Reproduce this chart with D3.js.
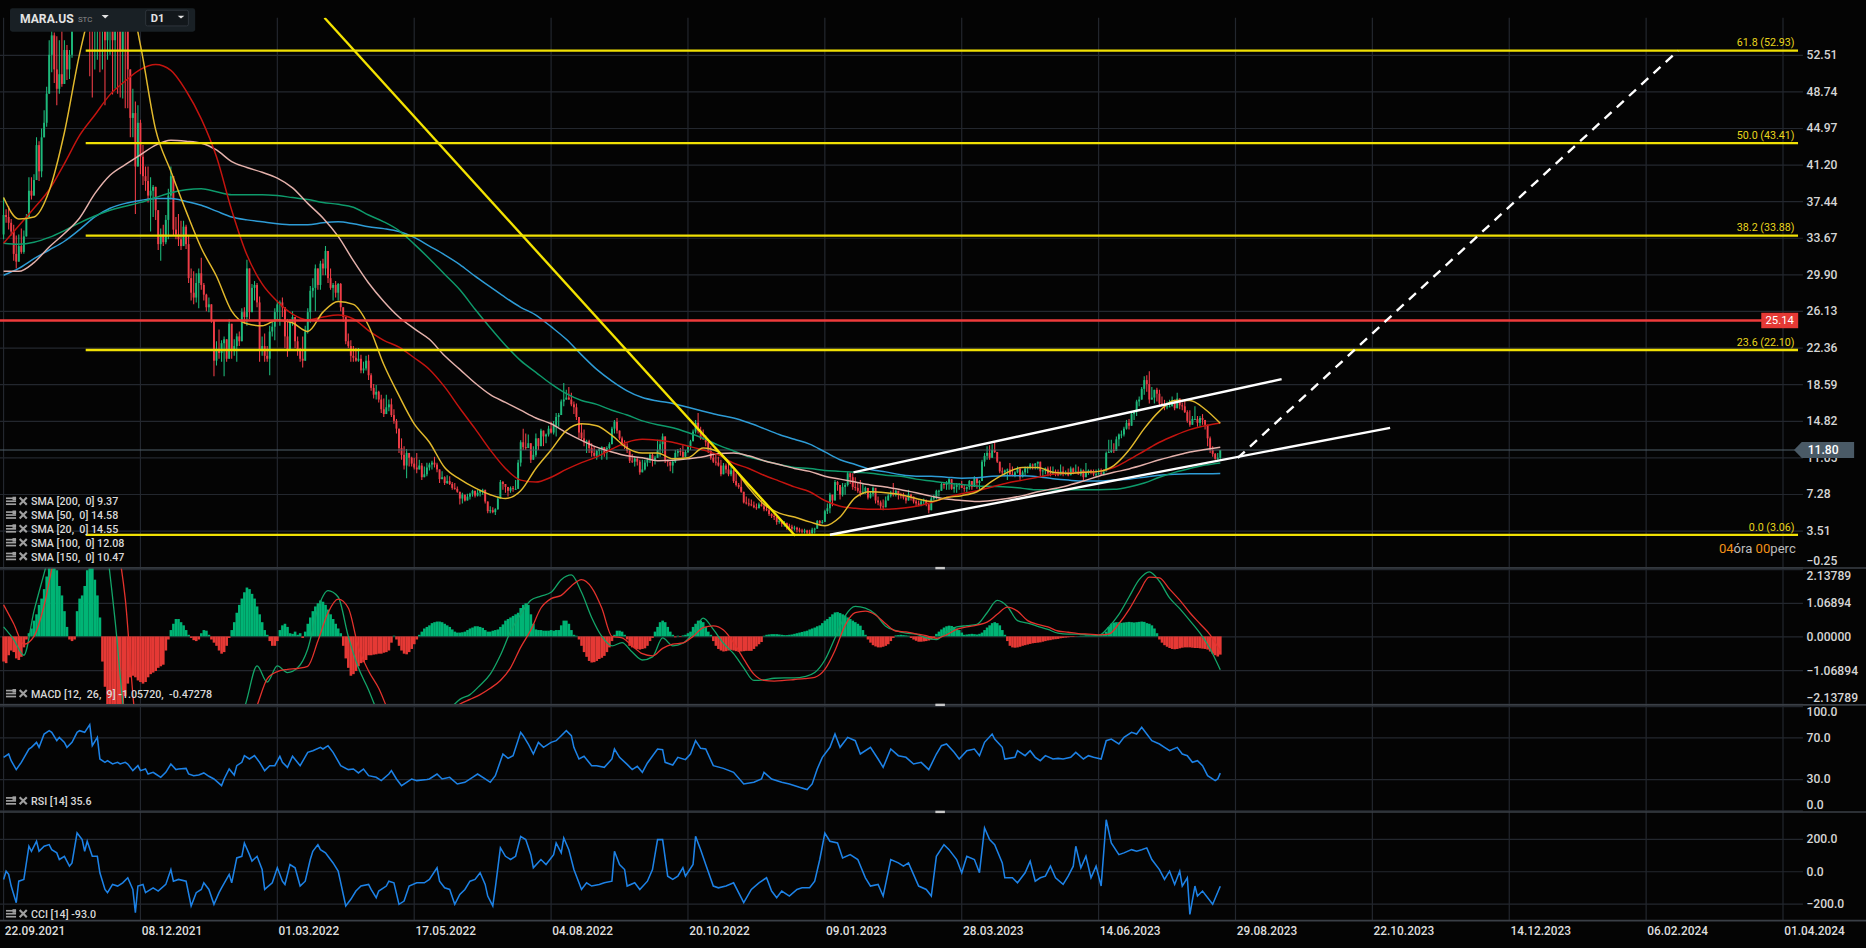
<!DOCTYPE html>
<html>
<head>
<meta charset="utf-8">
<script src="https://cdn.jsdelivr.net/npm/d3@7"></script>
<style>
  html, body { margin: 0; padding: 0; background: #040404; overflow: hidden; }
  svg { display: block; font-family: Roboto, 'Noto Sans', sans-serif; }
</style>
</head>
<body>
<div id="chart"></div>
<script>
// MARA.US daily chart: candles + 5 SMAs + fib levels, MACD / RSI / CCI panels
// all values (bar index 0 = 22.09.2021)

const ticker = 'MARA.US', exchange = 'STC', timeframe = 'D1';

const dateBars = [0, 54, 108, 162, 216, 270, 324, 378, 432, 486, 540, 594, 648, 702];
const dateLabels = ['22.09.2021', '08.12.2021', '01.03.2022', '17.05.2022', '04.08.2022', '20.10.2022',
  '09.01.2023', '28.03.2023', '14.06.2023', '29.08.2023', '22.10.2023', '14.12.2023', '06.02.2024', '01.04.2024'];

const priceTicks = [52.51, 48.74, 44.97, 41.20, 37.44, 33.67, 29.90, 26.13, 22.36, 18.59, 14.82, 11.05, 7.28, 3.51, -0.25];
const macdTicks = [2.13789, 1.06894, 0, -1.06894, -2.13789];
const rsiTicks = [100, 70, 30, 0];
const cciTicks = [200, 0, -200];

const firstOpen = 34.0;
const closes = [
  36.0, 35.8, 35.2, 34.3, 32.0, 31.2, 32.8, 32.2, 33.8, 35.8,
  38.5, 38.0, 39.6, 43.2, 40.5, 44.0, 45.5, 48.5, 52.5, 54.5,
  51.0, 49.0, 50.5, 49.5, 53.0, 51.0, 52.5, 55.0, 60.0, 63.0,
  68.0, 70.0, 66.0, 62.0, 58.0, 55.0, 57.0, 59.0, 56.0, 58.0,
  54.0, 56.0, 57.0, 54.0, 57.0, 55.0, 53.0, 56.0, 55.5, 51.0,
  46.0, 46.5, 41.0, 45.5, 42.0, 40.0, 39.5, 38.0, 38.5, 38.9,
  36.5, 33.0, 34.0, 33.2, 35.5, 38.0, 40.0, 34.5, 34.0, 33.5,
  32.8, 34.8, 33.0, 29.5, 28.0, 27.5, 29.0, 30.0, 28.8, 27.8,
  26.5, 26.8, 25.2, 21.0, 22.0, 21.8, 22.8, 23.2, 21.2, 24.8,
  22.0, 22.5, 23.5, 23.0, 26.0, 25.5, 30.5, 26.0, 28.5, 28.8,
  27.0, 22.0, 22.5, 21.5, 21.2, 24.0, 24.5, 26.0, 26.8, 27.0,
  26.5, 23.5, 22.0, 25.0, 25.5, 23.0, 22.0, 21.2, 21.0, 24.0,
  26.0, 28.2, 28.5, 30.5, 28.8, 31.0, 30.5, 32.3, 29.5, 28.5,
  28.8, 28.0, 28.9, 26.5, 25.5, 23.0, 22.5, 21.5, 21.3, 21.0,
  21.2, 20.0, 20.2, 21.0, 19.5, 18.2, 17.5, 17.8, 17.0, 16.0,
  15.5, 16.2, 16.5, 15.4, 14.8, 14.0, 12.0, 11.3, 10.2, 11.5,
  11.0, 10.4, 10.0, 9.8, 10.2, 9.0, 9.3, 10.0, 10.3, 10.5,
  10.3, 9.8, 8.8, 9.0, 8.4, 8.6, 8.3, 7.9, 7.8, 7.5,
  6.8, 7.2, 6.6, 7.0, 7.3, 7.6, 7.1, 7.4, 7.6, 7.7,
  6.5, 5.5, 5.6, 5.4, 5.7, 6.8, 8.5, 8.3, 8.0, 7.6,
  7.9, 7.8, 7.8, 10.5, 12.6, 12.1, 12.0, 12.5, 10.8, 11.3,
  13.0, 12.2, 13.8, 13.2, 13.4, 14.0, 13.6, 14.3, 15.2, 15.4,
  16.8, 17.0, 17.2, 17.0, 16.5, 16.2, 15.2, 13.6, 13.0, 12.6,
  12.7, 12.0, 11.5, 11.2, 11.7, 11.9, 12.1, 11.5, 12.0, 12.4,
  14.0, 14.7, 13.8, 13.0, 12.4, 12.2, 11.7, 10.7, 10.6, 10.9,
  10.6, 9.5, 9.8, 10.5, 10.8, 11.3, 10.8, 11.0, 11.8, 12.4,
  13.2, 10.8, 10.6, 10.2, 10.6, 11.5, 11.7, 11.6, 11.1, 11.6,
  12.2, 12.7, 13.7, 14.6, 13.8, 13.0, 12.9, 12.6, 11.7, 11.0,
  10.6, 10.5, 10.2, 9.3, 10.2, 9.8, 9.3, 9.7, 8.6, 8.2,
  8.0, 7.5, 6.4, 6.3, 6.2, 6.1, 5.9, 5.8, 6.2, 6.0,
  5.7, 5.6, 5.2, 5.0, 4.9, 4.4, 4.5, 4.2, 4.3, 4.0,
  3.9, 3.7, 3.8, 3.6, 3.5, 3.4, 3.5, 3.3, 3.2, 3.6,
  3.7, 4.5, 4.3, 4.4, 5.5, 5.8, 7.2, 6.6, 8.5, 8.2,
  7.2, 8.0, 8.2, 9.4, 9.0, 8.0, 7.9, 7.6, 7.3, 7.5,
  7.9, 6.9, 7.3, 7.9, 6.6, 6.4, 6.0, 5.9, 6.6, 7.1,
  7.4, 7.2, 7.6, 7.2, 7.1, 6.9, 6.6, 7.2, 7.0, 6.5,
  6.3, 6.1, 6.5, 6.6, 6.2, 5.6, 6.8, 7.0, 7.6, 7.6,
  8.3, 8.2, 8.4, 8.8, 7.8, 8.0, 8.2, 8.3, 7.9, 7.8,
  8.0, 8.6, 8.0, 8.9, 8.4, 8.6, 10.6, 11.2, 11.5, 11.0,
  11.8, 11.6, 10.6, 9.6, 9.5, 9.7, 9.8, 9.3, 9.2, 9.5,
  9.9, 9.0, 9.5, 9.9, 10.0, 10.3, 10.2, 10.4, 10.6, 9.6,
  9.7, 9.9, 9.4, 9.3, 9.5, 9.4, 9.2, 9.6, 9.3, 9.4,
  9.2, 9.9, 9.5, 9.6, 9.3, 9.7, 9.0, 9.5, 9.7, 9.5,
  9.3, 9.3, 9.4, 9.3, 9.6, 11.5, 11.6, 11.8, 11.7, 12.9,
  13.4, 13.4, 14.0, 14.6, 14.3, 15.5, 15.8, 16.8, 17.0, 18.1,
  19.0, 18.6, 17.0, 17.2, 18.0, 17.6, 16.6, 16.4, 16.2, 16.3,
  16.3, 16.9, 16.1, 17.1, 16.4, 16.3, 15.7, 14.8, 14.4, 15.0,
  15.0, 14.6, 15.1, 14.9, 14.4, 13.0, 11.8, 11.4, 10.9, 11.0, 11.8
];
const highs = [
  37.8, 36.6, 36.9, 35.6, 35.0, 33.9, 34.0, 34.6, 34.4, 36.1,
  39.9, 39.9, 40.2, 44.0, 43.6, 44.9, 46.8, 49.2, 54.0, 55.2,
  54.8, 54.4, 54.0, 55.0, 54.0, 53.5, 53.0, 57.0, 62.0, 66.0,
  70.0, 74.0, 83.7, 70.0, 65.0, 60.0, 59.0, 61.0, 60.0, 59.5,
  58.0, 57.0, 58.0, 58.0, 58.0, 58.0, 56.0, 57.0, 57.0, 56.0,
  50.0, 49.0, 47.7, 47.3, 45.8, 43.2, 41.0, 41.0, 39.9, 39.1,
  38.0, 36.1, 34.6, 35.0, 36.0, 38.7, 41.0, 38.0, 35.8, 36.1,
  35.4, 35.4, 35.0, 33.9, 30.5, 30.2, 30.0, 30.5, 31.6, 29.0,
  27.9, 27.5, 26.4, 23.8, 23.0, 24.2, 23.1, 23.5, 22.3, 25.3,
  23.5, 23.2, 23.8, 24.0, 26.4, 26.5, 31.4, 29.8, 28.9, 29.2,
  29.0, 27.6, 23.5, 23.8, 22.5, 24.6, 25.0, 26.4, 27.2, 27.2,
  27.5, 26.1, 25.3, 25.3, 26.1, 24.6, 23.5, 22.3, 23.5, 24.6,
  26.4, 28.7, 29.5, 30.9, 30.2, 31.3, 31.5, 32.8, 31.6, 30.5,
  29.0, 29.2, 29.0, 29.0, 26.5, 24.6, 23.8, 23.1, 22.5, 22.3,
  22.3, 21.6, 20.9, 21.5, 21.6, 19.7, 18.6, 18.5, 17.9, 17.5,
  17.1, 17.5, 17.0, 17.1, 16.0, 15.0, 13.8, 13.0, 12.2, 11.9,
  11.5, 11.1, 11.0, 11.5, 10.8, 10.45, 10.1, 10.5, 10.5, 10.7,
  11.1, 10.5, 9.8, 9.6, 9.1, 9.2, 9.1, 8.5, 8.4, 8.05,
  7.0, 7.4, 7.1, 7.3, 7.4, 7.7, 7.5, 7.7, 7.7, 7.8,
  7.4, 6.2, 6.0, 5.9, 5.8, 7.0, 8.7, 8.6, 8.3, 7.8,
  8.05, 8.1, 8.7, 10.8, 12.8, 14.0, 13.5, 13.4, 12.5, 12.2,
  13.5, 12.5, 14.0, 13.5, 13.5, 14.3, 14.7, 14.8, 15.6, 15.6,
  17.0, 18.7, 18.0, 18.3, 17.7, 16.8, 16.6, 14.9, 14.5, 13.9,
  12.85, 12.85, 12.5, 12.2, 11.8, 12.0, 12.2, 11.8, 12.2, 12.6,
  14.2, 14.9, 15.1, 13.5, 13.2, 12.8, 12.5, 11.8, 11.4, 11.1,
  11.0, 10.8, 10.8, 10.8, 11.0, 11.5, 11.5, 11.2, 12.85, 12.85,
  13.5, 11.8, 10.8, 10.6, 10.8, 11.8, 11.9, 12.0, 12.3, 11.8,
  12.3, 12.85, 13.9, 14.9, 15.6, 14.2, 13.9, 13.3, 12.85, 12.2,
  11.5, 11.3, 11.1, 10.8, 10.45, 10.4, 10.45, 10.1, 9.8, 9.4,
  8.4, 9.1, 7.4, 7.0, 6.8, 6.7, 6.5, 6.3, 6.4, 6.7,
  6.3, 6.0, 5.8, 5.3, 5.3, 4.8, 4.8, 4.6, 4.5, 4.3,
  4.2, 4.1, 4.0, 3.9, 3.8, 3.7, 3.7, 3.6, 3.6, 3.8,
  3.8, 4.6, 4.6, 4.6, 5.65, 6.3, 7.4, 6.9, 8.7, 8.6,
  8.05, 8.4, 8.4, 9.6, 9.5, 9.4, 9.0, 8.5, 8.7, 8.4,
  8.05, 7.7, 7.5, 8.05, 7.7, 7.0, 6.6, 6.7, 7.0, 7.3,
  7.6, 8.4, 7.7, 7.6, 7.4, 7.4, 7.0, 7.7, 7.3, 7.0,
  6.7, 6.6, 6.7, 6.8, 6.7, 6.3, 7.0, 7.2, 7.7, 7.7,
  8.4, 8.5, 8.6, 8.9, 8.7, 8.3, 8.4, 8.4, 8.6, 8.2,
  8.05, 8.7, 8.6, 9.1, 8.9, 8.7, 10.8, 11.5, 12.2, 12.3,
  12.4, 12.6, 11.5, 10.45, 10.0, 9.8, 9.9, 10.45, 10.1, 9.6,
  10.1, 9.8, 9.7, 10.1, 10.1, 10.45, 10.4, 10.45, 10.6, 10.1,
  9.8, 10.0, 10.1, 10.1, 10.1, 9.8, 9.8, 10.3, 10.1, 9.7,
  9.9, 10.1, 10.0, 10.3, 10.1, 9.9, 9.8, 10.45, 9.8, 9.8,
  9.8, 9.8, 9.9, 9.9, 9.8, 11.65, 12.85, 12.85, 12.5, 13.2,
  13.5, 13.8, 14.2, 14.9, 15.0, 15.6, 15.9, 16.97, 17.3, 18.3,
  19.4, 19.5, 19.9, 18.3, 18.0, 18.2, 18.0, 17.3, 16.97, 16.8,
  16.97, 17.3, 16.97, 17.7, 17.1, 16.7, 16.97, 15.9, 15.9, 15.3,
  16.3, 15.3, 15.3, 15.5, 14.9, 13.9, 13.2, 12.2, 11.5, 11.5, 11.8
];
const lows = [
  33.5, 35.2, 34.5, 33.9, 31.3, 30.5, 31.5, 32.0, 32.0, 33.9,
  37.3, 37.6, 38.0, 40.6, 39.5, 39.9, 44.5, 45.1, 48.8, 50.7,
  49.6, 47.3, 48.5, 49.2, 49.5, 49.9, 50.0, 52.2, 55.5, 58.0,
  60.0, 62.0, 63.0, 57.0, 50.3, 48.1, 51.0, 52.0, 50.7, 51.0,
  47.3, 52.0, 52.5, 48.4, 49.0, 48.5, 48.1, 48.0, 47.0, 47.0,
  44.0, 44.0, 36.1, 44.0, 40.2, 39.1, 38.5, 37.3, 34.3, 35.8,
  35.5, 32.4, 31.3, 32.8, 33.0, 33.5, 37.6, 33.9, 33.5, 32.8,
  32.4, 32.8, 32.5, 29.0, 27.2, 26.8, 27.0, 26.4, 28.3, 27.2,
  26.1, 26.0, 24.9, 19.4, 20.5, 21.2, 20.9, 19.4, 20.9, 22.0,
  21.2, 21.5, 20.9, 22.5, 24.6, 24.8, 24.6, 25.3, 26.4, 27.2,
  26.5, 20.9, 21.5, 20.9, 20.9, 19.5, 23.5, 23.1, 25.3, 24.6,
  25.5, 22.3, 21.4, 23.5, 24.6, 22.3, 21.5, 20.9, 20.3, 22.3,
  23.8, 24.9, 27.5, 26.1, 28.3, 28.3, 29.8, 29.8, 29.0, 28.3,
  27.2, 27.5, 27.2, 26.1, 25.0, 22.7, 22.3, 20.9, 20.9, 20.9,
  20.9, 19.7, 19.7, 20.0, 19.0, 17.9, 17.1, 17.0, 16.7, 15.6,
  15.2, 16.0, 15.8, 15.2, 14.5, 13.5, 11.5, 10.8, 9.8, 8.9,
  10.1, 10.1, 9.8, 9.4, 9.8, 8.7, 9.1, 9.1, 9.7, 9.8,
  10.0, 9.5, 8.4, 8.9, 8.2, 8.3, 8.2, 7.7, 7.7, 7.4,
  6.2, 6.3, 6.5, 6.7, 6.7, 7.0, 6.9, 7.0, 7.0, 7.2,
  6.3, 5.3, 5.3, 5.3, 5.1, 5.65, 7.4, 7.7, 7.4, 7.0,
  7.4, 7.5, 7.7, 9.0, 10.1, 11.8, 11.8, 12.2, 10.45, 11.1,
  11.1, 11.8, 12.5, 12.2, 12.5, 13.2, 13.5, 13.4, 13.2, 14.2,
  15.6, 16.3, 16.97, 16.97, 16.3, 15.5, 14.9, 13.0, 12.85, 12.2,
  11.5, 11.5, 11.1, 11.1, 10.8, 11.2, 10.8, 11.1, 10.8, 11.6,
  12.5, 13.5, 13.5, 12.85, 12.2, 11.9, 11.5, 10.45, 10.45, 10.1,
  10.2, 9.25, 9.8, 9.7, 10.1, 10.45, 10.1, 10.3, 11.5, 11.1,
  11.5, 10.45, 10.1, 9.6, 9.4, 10.45, 11.1, 11.2, 11.0, 11.1,
  11.5, 11.8, 12.85, 13.5, 13.5, 12.85, 12.85, 12.2, 11.5, 10.8,
  10.45, 10.2, 10.1, 9.1, 9.4, 9.4, 9.1, 9.1, 8.4, 8.05,
  7.8, 7.4, 6.3, 6.2, 6.0, 6.0, 5.8, 5.65, 5.8, 6.0,
  5.5, 5.5, 5.0, 4.8, 4.6, 4.1, 4.2, 3.9, 3.9, 3.6,
  3.6, 3.4, 3.5, 3.3, 3.3, 3.2, 3.2, 3.1, 3.07, 3.2,
  3.2, 3.8, 4.1, 4.2, 4.6, 5.2, 5.3, 6.0, 7.4, 7.6,
  6.7, 7.0, 7.2, 8.05, 8.3, 7.7, 7.6, 7.4, 7.0, 7.3,
  7.3, 6.7, 6.8, 7.0, 6.3, 6.1, 5.65, 5.6, 5.9, 6.6,
  6.9, 7.0, 7.0, 6.7, 6.8, 6.7, 6.3, 7.0, 6.6, 6.3,
  6.0, 6.0, 6.0, 6.2, 6.0, 5.3, 5.65, 6.6, 6.7, 7.0,
  7.6, 7.8, 7.7, 7.7, 7.7, 7.4, 7.4, 7.7, 7.9, 7.5,
  7.4, 7.7, 7.7, 8.05, 7.8, 7.7, 9.1, 10.1, 10.8, 10.8,
  11.0, 11.5, 10.45, 9.4, 9.3, 9.1, 8.7, 9.1, 9.1, 9.0,
  9.4, 8.7, 9.0, 9.1, 9.4, 9.8, 9.8, 9.8, 9.8, 9.1,
  9.1, 9.3, 9.1, 9.1, 9.4, 9.1, 9.1, 9.4, 9.1, 9.2,
  9.1, 9.25, 9.3, 9.4, 9.25, 9.1, 8.7, 9.4, 9.25, 9.3,
  9.1, 9.1, 9.25, 9.25, 9.2, 9.8, 11.5, 11.5, 11.5, 12.2,
  12.2, 13.0, 13.2, 13.9, 13.9, 14.3, 14.9, 15.3, 16.3, 16.97,
  17.5, 17.8, 16.6, 16.97, 16.6, 16.8, 16.3, 16.3, 15.9, 16.0,
  16.2, 16.3, 15.9, 16.3, 16.0, 15.9, 15.6, 14.6, 14.2, 14.4,
  14.9, 14.2, 14.2, 14.4, 13.9, 12.2, 11.5, 11.1, 10.8, 10.8, 10.8
];

// moving averages, one value every 6 bars
const smaStep = 6;
const sma20 = [37.8, 35.6, 35.8, 38.5, 44.5, 52.6, 58.5, 60.5, 60.0, 53.5, 44.8, 40.5, 36.4, 32.6, 29.7, 26.1, 24.8, 24.6, 25.2, 24.9,
  24.0, 26.0, 27.1, 26.8, 24.6, 20.6, 17.4, 14.5, 12.6, 10.0, 8.8, 7.9, 7.2, 6.8, 7.6, 9.9, 11.8, 13.8, 14.5, 14.3,
  13.3, 12.0, 11.5, 11.5, 10.9, 11.0, 12.0, 11.6, 10.0, 7.9, 6.2, 5.3, 4.9, 4.4, 4.0, 4.9, 6.9, 7.5, 7.4, 7.2,
  6.8, 6.5, 6.9, 7.1, 7.5, 8.6, 9.5, 10.0, 10.0, 9.5, 9.4, 9.5, 9.6, 10.2, 11.8, 14.0, 15.8, 16.9, 16.9, 16.0, 14.55];
const sma50 = [33.1, 34.9, 36.7, 38.6, 41.3, 44.2, 46.3, 48.4, 49.8, 51.0, 51.5, 50.9, 48.8, 45.9, 42.0, 36.5, 31.9, 28.9, 27.1, 25.8,
  25.2, 25.5, 25.7, 25.3, 24.1, 23.1, 22.4, 21.3, 20.1, 18.3, 16.1, 14.0, 11.8, 9.9, 8.7, 8.5, 9.0, 9.8, 10.5, 11.1,
  11.9, 12.6, 12.9, 12.8, 12.6, 12.2, 11.8, 11.3, 10.45, 9.9, 9.2, 8.6, 8.0, 7.5, 6.6, 6.0, 5.8, 5.7, 5.7, 5.8,
  6.0, 6.4, 6.9, 7.3, 7.6, 8.0, 8.4, 8.7, 9.0, 9.3, 9.4, 9.5, 9.6, 10.0, 10.8, 11.7, 12.6, 13.3, 13.9, 14.3, 14.58];
const sma100 = [30.2, 30.2, 31.1, 32.7, 34.1, 35.7, 38.2, 40.1, 41.2, 42.2, 43.2, 43.7, 43.6, 43.4, 42.7, 41.5, 40.9, 40.4, 39.8, 38.8,
  37.2, 35.7, 33.8, 31.3, 29.0, 27.1, 25.5, 24.3, 23.2, 21.5, 20.1, 18.7, 17.5, 16.7, 15.9, 15.1, 14.5, 13.6, 12.8, 12.1,
  11.6, 11.2, 11.0, 10.7, 10.75, 10.9, 11.1, 11.45, 11.5, 11.2, 10.7, 10.3, 9.9, 9.6, 9.1, 8.8, 8.5, 8.2, 8.0, 7.7,
  7.4, 7.05, 6.75, 6.6, 6.5, 6.6, 6.8, 7.1, 7.5, 7.8, 8.15, 8.6, 9.1, 9.5, 9.85, 10.3, 10.8, 11.2, 11.6, 11.85, 12.08];
const sma150 = [33.1, 33.0, 33.2, 33.7, 34.4, 35.2, 35.9, 36.5, 36.9, 37.3, 37.8, 38.3, 38.6, 38.7, 38.4, 38.1, 38.1, 38.1, 38.0, 37.8,
  37.6, 37.3, 37.1, 36.8, 36.0, 35.3, 34.4, 33.0, 31.5, 29.9, 28.3, 26.3, 24.4, 22.6, 21.0, 19.8, 18.6, 17.6, 16.9, 16.5,
  15.9, 15.4, 14.8, 14.4, 14.1, 13.6, 13.0, 12.3, 11.7, 11.1, 10.7, 10.3, 10.0, 9.9, 9.7, 9.6, 9.5, 9.4, 9.2, 9.1,
  8.8, 8.6, 8.4, 8.25, 8.1, 8.05, 8.0, 7.85, 7.7, 7.7, 7.7, 7.7, 7.7, 7.75, 8.0, 8.4, 9.0, 9.5, 9.9, 10.25, 10.47];
const sma200 = [29.8, 30.5, 31.5, 32.4, 33.3, 34.5, 35.8, 36.7, 37.2, 37.5, 37.7, 37.7, 37.4, 37.0, 36.4, 35.8, 35.5, 35.3, 35.1, 35.0,
  35.0, 35.2, 35.3, 35.1, 34.8, 34.6, 34.3, 33.7, 32.8, 31.9, 30.9, 29.7, 28.6, 27.5, 26.5, 25.7, 24.5, 23.2, 21.6, 20.1,
  18.9, 17.9, 17.2, 16.85, 16.6, 16.2, 15.8, 15.4, 15.1, 14.6, 14.0, 13.4, 12.9, 12.4, 11.6, 10.8, 10.3, 9.8, 9.55, 9.25,
  9.1, 9.1, 9.0, 8.9, 8.95, 9.1, 9.15, 9.15, 9.05, 8.85, 8.7, 8.6, 8.6, 8.7, 8.8, 9.0, 9.2, 9.3, 9.35, 9.36, 9.37];
const smaLegend = ['SMA [200,  0] 9.37', 'SMA [50,  0] 14.58', 'SMA [20,  0] 14.55', 'SMA [100,  0] 12.08', 'SMA [150,  0] 10.47'];

// fibonacci retracement drawn from the Nov-2021 high
const fibRatios = [61.8, 50.0, 38.2, 23.6, 0.0];
const fibPrices = [52.93, 43.41, 33.88, 22.10, 3.06];
const fibStartBar = 32.4;
const resistanceLevel = 25.14;
const lastPrice = 11.80;

// hand drawn trend lines: [bar, price] end points
const downTrend = [[126.6, 56.31], [312.3, 2.97]];
const channelTop = [[335.3, 9.49], [504.2, 19.1]];
const channelBottom = [[326.0, 3.07], [547.0, 14.08]];
const projection = [[486.9, 10.98], [660.6, 52.93]];

// MACD (12, 26, 9)
const macdStep = 4;
const macdLine = [0.3, -0.1, -0.6, 0.8, 2.0, 3.2, 4.2, 4.8, 5.0, 4.6, 3.2, 0.5, -2.8, -4.0, -4.8, -5.0, -4.8, -4.6, -4.5, -4.6,
  -4.5, -4.6, -4.2, -3.2, -2.0, -0.94, -1.45, -0.94, -1.15, -1.0, -0.4, 0.88, 1.45, 1.25, 0.0, -1.0, -1.7, -2.5, -3.2, -3.5,
  -3.4, -3.0, -2.8, -2.5, -2.3, -2.0, -1.85, -1.55, -1.2, -0.6, 0.15, 0.7, 1.15, 1.28, 1.4, 1.8, 1.95, 1.4, 0.6, 0.0,
  -0.3, -0.2, -0.5, -0.75, -0.65, -0.05, -0.3, -0.22, 0.1, 0.58, 0.22, -0.22, -0.55, -1.0, -1.4, -1.38, -1.33, -1.32, -1.32, -1.28,
  -1.15, -0.75, -0.05, 0.65, 0.95, 0.9, 0.7, 0.32, 0.18, 0.1, 0.07, -0.05, -0.1, 0.15, 0.3, 0.34, 0.38, 0.75, 1.14, 0.95,
  0.5, 0.42, 0.32, 0.22, 0.1, 0.07, 0.07, 0.05, 0.03, 0.3, 0.7, 1.25, 1.8, 2.05, 1.75, 1.22, 0.88, 0.5, 0.1, -0.4, -1.06];
const signalLine = [1.0, 0.4, -0.25, 0.0, 0.98, 2.5, 3.5, 4.2, 4.7, 4.8, 4.4, 3.3, 1.2, -2.6, -3.6, -4.3, -4.6, -4.7, -4.6, -4.6,
  -4.5, -4.5, -4.4, -3.9, -3.0, -2.2, -1.35, -1.12, -1.05, -1.02, -0.95, -0.15, 0.75, 1.18, 0.9, -0.35, -1.1, -1.65, -2.4, -3.0,
  -3.3, -3.3, -3.0, -2.7, -2.4, -2.15, -2.0, -1.85, -1.65, -1.4, -1.0, -0.35, 0.2, 0.9, 1.2, 1.3, 1.6, 1.8, 1.55, 0.9,
  0.0, -0.05, -0.3, -0.55, -0.62, -0.38, -0.25, -0.21, 0.0, 0.28, 0.33, 0.2, -0.2, -0.72, -1.2, -1.4, -1.42, -1.4, -1.37, -1.34,
  -1.3, -1.05, -0.45, 0.35, 0.75, 0.8, 0.68, 0.4, 0.17, 0.14, 0.08, 0.02, -0.06, 0.05, 0.22, 0.3, 0.36, 0.45, 0.7, 0.93,
  0.8, 0.5, 0.38, 0.3, 0.17, 0.13, 0.09, 0.07, 0.05, 0.07, 0.4, 0.85, 1.4, 1.88, 1.86, 1.5, 1.15, 0.75, 0.4, 0.05, -0.47];
const macdHist = [
  -0.8, -0.85, -0.6, -0.45, -0.5, -0.7, -0.75, -0.65, -0.35, -0.1,
  0.1, 0.25, 0.5, 0.7, 1.0, 1.2, 1.5, 1.9, 2.3, 2.5,
  2.4, 2.1, 1.6, 1.3, 0.8, 0.3, -0.1, -0.15, -0.1, 0.8,
  1.2, 1.3, 1.6, 2.1, 2.3, 2.3, 1.8, 1.3, 0.6, -0.8,
  -1.6, -2.3, -2.6, -2.8, -2.8, -2.6, -2.4, -2.3, -1.9, -1.5,
  -1.3, -1.25, -1.3, -1.4, -1.45, -1.5, -1.45, -1.3, -1.2, -1.15,
  -1.1, -1.0, -0.95, -0.9, -0.45, -0.1, 0.2, 0.4, 0.55, 0.55,
  0.45, 0.35, 0.2, 0.05, -0.05, -0.12, -0.15, -0.1, 0.1, 0.2,
  0.18, 0.05, -0.1, -0.2, -0.3, -0.45, -0.55, -0.5, -0.3, -0.05,
  0.2, 0.45, 0.75, 1.0, 1.2, 1.4, 1.55, 1.5, 1.35, 1.2,
  0.95, 0.7, 0.45, 0.2, 0.05, -0.15, -0.3, -0.3, -0.15, 0.2,
  0.35, 0.4, 0.3, 0.1, 0.08, 0.15, 0.05, 0.1, -0.05, 0.15,
  0.4, 0.6, 0.8, 0.95, 1.05, 1.14, 1.1, 1.0, 0.85, 0.7,
  0.55, 0.4, 0.25, 0.1, -0.3, -0.7, -1.0, -1.25, -1.2, -1.1,
  -0.95, -0.85, -0.82, -0.75, -0.6, -0.6, -0.58, -0.57, -0.55, -0.55,
  -0.52, -0.5, -0.45, -0.2, 0.02, -0.1, -0.3, -0.45, -0.55, -0.57,
  -0.5, -0.4, -0.25, -0.1, 0.05, 0.15, 0.25, 0.3, 0.35, 0.42,
  0.45, 0.47, 0.47, 0.45, 0.4, 0.35, 0.3, 0.22, 0.15, 0.12,
  0.12, 0.13, 0.15, 0.2, 0.25, 0.28, 0.32, 0.32, 0.3, 0.27,
  0.2, 0.15, 0.15, 0.18, 0.2, 0.22, 0.3, 0.38, 0.5, 0.55,
  0.6, 0.65, 0.7, 0.75, 0.9, 1.0, 1.05, 1.0, 0.7, 0.4,
  0.22, 0.2, 0.2, 0.18, 0.18, 0.18, 0.2, 0.18, 0.2, 0.2,
  0.35, 0.5, 0.5, 0.4, 0.2, 0.05, 0.02, -0.1, -0.3, -0.5,
  -0.65, -0.78, -0.83, -0.82, -0.78, -0.72, -0.68, -0.62, -0.5, -0.35,
  -0.15, 0.05, 0.18, 0.18, 0.15, 0.05, -0.1, -0.3, -0.35, -0.38,
  -0.4, -0.42, -0.4, -0.38, -0.3, -0.15, -0.05, 0.15, 0.3, 0.45,
  0.5, 0.45, 0.3, 0.15, 0.05, -0.03, 0.02, -0.02, 0.03, 0.05,
  0.1, 0.15, 0.3, 0.4, 0.5, 0.5, 0.45, 0.3, 0.15, 0.05,
  -0.15, -0.3, -0.4, -0.45, -0.48, -0.47, -0.45, -0.43, -0.45, -0.47,
  -0.49, -0.48, -0.47, -0.46, -0.46, -0.46, -0.4, -0.32, -0.25, -0.18,
  0.02, 0.05, 0.06, 0.07, 0.07, 0.07, 0.06, 0.05, 0.04, 0.04,
  0.05, 0.06, 0.08, 0.1, 0.12, 0.14, 0.16, 0.18, 0.22, 0.25,
  0.28, 0.32, 0.35, 0.42, 0.5, 0.55, 0.62, 0.7, 0.76, 0.77,
  0.74, 0.7, 0.66, 0.6, 0.55, 0.5, 0.45, 0.4, 0.34, 0.2,
  0.05, -0.1, -0.2, -0.28, -0.32, -0.35, -0.35, -0.33, -0.3, -0.25,
  -0.15, -0.05, 0.03, 0.04, 0.05, 0.04, 0.03, 0.02, -0.05, -0.1,
  -0.14, -0.17, -0.17, -0.16, -0.15, -0.13, -0.1, -0.05, 0.08, 0.15,
  0.22, 0.28, 0.32, 0.34, 0.33, 0.3, 0.25, 0.2, 0.12, 0.05,
  0.06, 0.07, 0.08, 0.07, 0.06, 0.08, 0.12, 0.2, 0.28, 0.35,
  0.42, 0.45, 0.42, 0.35, 0.2, 0.05, -0.15, -0.3, -0.35, -0.36,
  -0.35, -0.33, -0.3, -0.28, -0.26, -0.24, -0.22, -0.21, -0.2, -0.19,
  -0.17, -0.15, -0.13, -0.12, -0.1, -0.09, -0.08, -0.06, -0.05, -0.04,
  -0.03, -0.02, -0.02, -0.01, 0.01, 0.02, 0.02, 0.03, 0.03, 0.02,
  0.02, 0.03, 0.04, 0.05, 0.08, 0.15, 0.3, 0.4, 0.44, 0.45,
  0.45, 0.43, 0.44, 0.45, 0.46, 0.45, 0.44, 0.45, 0.46, 0.47,
  0.46, 0.42, 0.4, 0.35, 0.25, 0.1, -0.1, -0.2, -0.28, -0.33,
  -0.37, -0.4, -0.41, -0.4, -0.38, -0.36, -0.35, -0.35, -0.35, -0.36,
  -0.37, -0.37, -0.38, -0.39, -0.4, -0.42, -0.48, -0.55, -0.6, -0.64, -0.58
];
const macdLegend = 'MACD [12,  26,  9] -1.05720,  -0.47278';

// RSI (14)
const rsiBars = [0, 2, 3, 5, 7, 10, 11, 13, 14, 16, 18, 19, 21, 22, 24, 25, 27, 29, 30, 32, 34, 35, 37, 38, 40, 41, 43, 45, 46, 48,
  49, 51, 53, 54, 56, 57, 59, 60, 62, 64, 66, 68, 69, 72, 73, 75, 77, 79, 81, 83, 86, 87, 89, 91, 92, 94, 95, 97, 99, 101,
  103, 105, 107, 109, 110, 112, 114, 117, 120, 122, 125, 126, 128, 130, 133, 136, 138, 140, 142, 144, 147, 149, 152, 153, 155, 157, 159, 161, 163, 167,
  168, 171, 173, 176, 179, 182, 185, 187, 190, 192, 194, 197, 199, 201, 204, 205, 207, 209, 211, 213, 216, 218, 220, 222, 224, 225, 227, 229, 232, 234,
  237, 240, 241, 243, 246, 248, 250, 252, 254, 258, 260, 261, 264, 266, 269, 271, 273, 275, 277, 280, 284, 288, 292, 296, 299, 300, 303, 307, 310, 314,
  317, 319, 321, 323, 326, 328, 330, 333, 336, 338, 342, 345, 347, 350, 353, 356, 359, 362, 365, 368, 370, 372, 375, 377, 380, 383, 385, 387, 390, 391,
  394, 395, 399, 400, 403, 405, 407, 409, 411, 414, 416, 418, 421, 423, 426, 428, 430, 433, 435, 437, 440, 442, 445, 447, 449, 451, 453, 456, 458, 460,
  463, 465, 467, 469, 471, 473, 475, 478, 479, 480];
const rsiValues = [50.8, 54, 47.6, 39, 46, 58.8, 60.4, 65.2, 60.4, 73.2, 76.4, 74.8, 66.8, 70, 65.2, 60.4, 65.2, 74.8, 76.4, 74.8, 82.2, 62, 70, 49.2, 46, 47.6, 44.4, 46, 44.4, 46,
  44.4, 38, 42.8, 38, 39.6, 34.8, 36.4, 34.8, 31.6, 36.4, 44.4, 39, 39.6, 40.2, 34.8, 33.2, 33.8, 35.8, 32.6, 30, 23.6, 30, 39.6, 33.8, 42.8, 46, 52.4, 49.2, 52.4, 46,
  38, 42.8, 42.8, 51.8, 46, 41.2, 51.8, 42.8, 55.6, 57.2, 60.4, 58.8, 62, 55.6, 42.8, 39, 39.6, 35.8, 39.6, 33.2, 31.6, 28.4, 34.8, 38, 30, 23.6, 26.8, 30, 28.4, 29.4,
  30, 34.8, 30, 31.6, 25.2, 26.8, 31.6, 34.8, 30, 26.8, 33.2, 54, 49.8, 52.4, 74.8, 71.6, 63.6, 54, 65.2, 60.4, 65.2, 66.8, 71.6, 76.4, 71.6, 60.4, 49.2, 51.8, 42.8, 42.8,
  41.2, 49.2, 58.8, 50.8, 44, 39, 42.2, 36.4, 45.4, 58.8, 58.2, 46, 43.4, 50.8, 48.6, 54, 66.8, 59.4, 58.8, 42.8, 40.2, 36.4, 25.2, 26.8, 30, 36.4, 30, 26.8, 25.2, 22,
  19.8, 25.2, 39.6, 50.8, 60.4, 73.2, 60.4, 70, 66.8, 54, 60.4, 49.2, 41.2, 58.8, 52.4, 50.8, 44.4, 46, 39, 54, 62, 63.6, 55.6, 49.2, 57.2, 58.8, 52.4, 65.2, 73.2, 68.4,
  60.4, 49.2, 50.8, 57.2, 52.4, 57.2, 50.8, 47.6, 52.4, 49.2, 49.8, 49.2, 50.8, 55.6, 49.2, 52.4, 50.8, 49.2, 66.8, 68.4, 63.6, 70, 74.8, 73.2, 79.6, 73.2, 66.8, 63.6, 60.4, 57.2,
  60.4, 54, 52.4, 46, 47.6, 42.8, 33.2, 28.4, 30, 35.6];
const rsiLegend = 'RSI [14] 35.6';

// CCI (14)
const cciBars = [0, 1, 2, 3, 5, 6, 8, 10, 11, 13, 14, 16, 18, 19, 21, 22, 24, 26, 27, 29, 31, 32, 33, 35, 37, 38, 40, 41, 43, 45,
  47, 49, 51, 52, 53, 55, 56, 59, 61, 64, 66, 67, 69, 72, 74, 76, 78, 79, 81, 83, 85, 86, 89, 90, 92, 94, 95, 97, 98, 100,
  102, 103, 106, 108, 110, 111, 113, 115, 117, 119, 121, 122, 124, 125, 127, 128, 130, 132, 135, 137, 139, 141, 144, 145, 147, 148, 151, 152, 154, 156,
  158, 160, 163, 166, 168, 171, 172, 174, 176, 178, 180, 182, 184, 186, 188, 190, 191, 193, 194, 196, 198, 200, 202, 204, 206, 208, 209, 212, 214, 217,
  218, 220, 221, 223, 225, 227, 228, 230, 232, 235, 237, 240, 241, 243, 245, 246, 249, 251, 254, 256, 258, 260, 262, 264, 266, 268, 269, 272, 273, 275,
  277, 280, 282, 285, 288, 292, 295, 298, 301, 303, 305, 307, 310, 313, 315, 318, 320, 322, 324, 326, 329, 331, 334, 337, 340, 342, 345, 347, 350, 353,
  355, 357, 361, 364, 366, 368, 371, 373, 376, 378, 380, 383, 385, 387, 389, 391, 394, 395, 398, 400, 403, 405, 407, 409, 411, 413, 415, 418, 420, 422,
  423, 425, 427, 429, 431, 433, 435, 437, 440, 442, 445, 447, 449, 451, 453, 456, 458, 460, 462, 464, 465, 467, 468, 470, 471, 473, 477, 480];
const cciValues = [-51, 0, -20, -92, -195, -62, -51, 154, 123, 185, 123, 154, 164, 133, 113, 72, 92, 31, 51, 236, 195, 123, 185, 92, 92, -10, -113, -133, -82, -92,
  -72, -41, -113, -256, -92, -82, -133, -103, -123, -82, 10, -62, -51, -62, -215, -133, -113, -72, -113, -205, -133, -103, -20, -72, 82, 92, 174, 102, 62, 92,
  10, -113, -72, 21, -62, -82, 41, 21, -92, -62, 72, 123, 164, 133, 113, 92, 51, 0, -215, -174, -123, -92, -82, -113, -164, -123, -92, -62, -72, -205,
  -185, -92, -72, -72, -51, 21, -62, -103, -113, -205, -144, -113, -62, -51, -10, -82, -154, -215, -103, 144, 92, 72, 92, 215, 195, 102, 21, 72, 41, 102,
  174, 113, 205, 133, 10, -72, -113, -72, -92, -82, -72, -62, 123, 41, 10, -92, -72, -113, -62, 10, 195, 195, -31, -51, -31, 21, -31, 41, 215, 133,
  41, -92, -103, -92, -72, -195, -113, -72, -41, -123, -164, -123, -154, -113, -103, -103, -62, 72, 236, 185, 174, 82, 102, 72, -41, -92, -82, -154, 72, 51,
  31, 51, -92, -113, -154, 92, 164, 133, 72, -10, 92, 72, -10, 267, 195, 164, 51, -41, -41, -72, -10, 62, -62, -41, -31, 31, -41, -82, -31, 31,
  154, 21, 92, -41, 31, -92, 318, 174, 102, 113, 133, 123, 133, 144, 72, 10, -51, 0, -82, 0, -92, -41, -267, -92, -154, -123, -205, -93];
const cciLegend = 'CCI [14] -93.0';

// ---------------------------------------------------------------------------
const W = 1568, H = 797;
const plotRight = 1511, gridRight = 1515;
const panels = {
  main: { top: 15, bottom: 477.6 },
  macd: { top: 477.6, bottom: 592.6 },
  rsi: { top: 592.6, bottom: 682.6 },
  cci: { top: 682.6, bottom: 774 }
};

const upColor = '#1eb97b', downColor = '#ef3d47';
const gridColor = '#23272e', sepColor = '#3a3f46', labelColor = '#d6d6d6';

const svg = d3.select('#chart').append('svg')
  .attr('width', 1866).attr('height', 948)
  .attr('viewBox', `0 0 ${W} ${H}`)
  .attr('preserveAspectRatio', 'none')
  .style('background', '#040404');

const x = d3.scaleLinear().domain([0, 702]).range([3, 3 + 702 * 2.13]);
const yP = d3.scaleLinear().domain([-0.25, 52.51]).range([476.7, 46]);
const yM = d3.scaleLinear().domain([-1.06894, 1.06894]).range([563.3, 506.7]);
const yR = d3.scaleLinear().domain([30, 70]).range([654.9, 619.9]);
const yC = d3.scaleLinear().domain([-200, 200]).range([759.6, 705.2]);

const defs = svg.append('defs');
Object.entries(panels).forEach(([k, p]) => {
  defs.append('clipPath').attr('id', 'clip-' + k)
    .append('rect').attr('x', 0).attr('y', p.top).attr('width', plotRight).attr('height', p.bottom - p.top);
});

// vertical grid
svg.append('g').selectAll('line').data(dateBars).join('line')
  .attr('x1', d => x(d)).attr('x2', d => x(d))
  .attr('y1', panels.main.top).attr('y2', panels.cci.bottom)
  .attr('stroke', gridColor).attr('stroke-width', 1);

// right axes with horizontal grid; edge labels are pushed inside their panel
function rightAxis(scale, ticks, fmt, panel) {
  const g = svg.append('g').attr('transform', `translate(${gridRight},0)`)
    .call(d3.axisRight(scale).tickValues(ticks).tickFormat(fmt)
      .tickSizeInner(-gridRight).tickSizeOuter(0).tickPadding(3));
  g.select('.domain').remove();
  g.selectAll('.tick line').attr('stroke', gridColor).attr('stroke-width', 1);
  g.selectAll('.tick text')
    .attr('fill', labelColor).attr('font-size', 10.2).attr('font-weight', 500)
    .attr('font-family', 'Roboto, sans-serif')
    .attr('y', d => {
      const ty = scale(d);
      const cy = Math.max(panel.top + 6, Math.min(panel.bottom - 6, ty));
      return cy - ty;
    });
  return g;
}
rightAxis(yP, priceTicks, d3.format('.2f'), panels.main);
rightAxis(yM, macdTicks, d3.format('.5f'), panels.macd);
rightAxis(yR, rsiTicks, d3.format('.1f'), panels.rsi);
rightAxis(yC, cciTicks, d3.format('.1f'), panels.cci);

// ---------------- main panel ----------------
const main = svg.append('g').attr('clip-path', 'url(#clip-main)');
const bars = d3.range(closes.length);
const openOf = i => (i === 0 ? firstOpen : closes[i - 1]);

main.append('g').selectAll('line').data(bars).join('line')
  .attr('x1', i => x(i)).attr('x2', i => x(i))
  .attr('y1', i => yP(Math.max(highs[i], openOf(i), closes[i])))
  .attr('y2', i => yP(Math.min(lows[i], openOf(i), closes[i])))
  .attr('stroke', i => (closes[i] >= openOf(i) ? upColor : downColor))
  .attr('stroke-width', 0.9);
main.append('g').selectAll('rect').data(bars).join('rect')
  .attr('x', i => x(i) - 0.8).attr('width', 1.6)
  .attr('y', i => yP(Math.max(openOf(i), closes[i])))
  .attr('height', i => Math.max(0.8, Math.abs(yP(openOf(i)) - yP(closes[i]))))
  .attr('fill', i => (closes[i] >= openOf(i) ? upColor : downColor));

// current price line
main.append('line')
  .attr('x1', 0).attr('x2', plotRight).attr('y1', yP(lastPrice)).attr('y2', yP(lastPrice))
  .attr('stroke', '#4f5e69').attr('stroke-width', 1);

// moving averages
const smaLine = d3.line().x((d, k) => x(k * smaStep)).y(d => yP(d)).curve(d3.curveMonotoneX);
[[sma200, '#2e9cd6'], [sma150, '#0e9a6b'], [sma100, '#e4b1ab'], [sma50, '#c3140f'], [sma20, '#e2b92c']]
  .forEach(([data, color]) => {
    main.append('path').datum(data).attr('d', smaLine)
      .attr('fill', 'none').attr('stroke', color).attr('stroke-width', 1.25);
  });

// resistance line
main.append('line')
  .attr('x1', 0).attr('x2', plotRight).attr('y1', yP(resistanceLevel)).attr('y2', yP(resistanceLevel))
  .attr('stroke', '#ee3b3b').attr('stroke-width', 2);

// fibonacci levels
main.append('g').selectAll('line').data(fibPrices).join('line')
  .attr('x1', x(fibStartBar)).attr('x2', plotRight)
  .attr('y1', d => yP(d)).attr('y2', d => yP(d))
  .attr('stroke', '#f0e004').attr('stroke-width', 1.9);

// drawings
const seg = (pts, color, dash) => main.append('line')
  .attr('x1', x(pts[0][0])).attr('y1', yP(pts[0][1]))
  .attr('x2', x(pts[1][0])).attr('y2', yP(pts[1][1]))
  .attr('stroke', color).attr('stroke-width', 2)
  .attr('stroke-dasharray', dash || null);
seg(downTrend, '#f4e300');
seg(channelTop, '#ffffff');
seg(channelBottom, '#ffffff');
seg(projection, '#ffffff', '8,6');

// fib labels
svg.append('g').selectAll('text').data(fibPrices).join('text')
  .attr('x', 1508).attr('y', d => yP(d) - 3.5)
  .attr('text-anchor', 'end').attr('font-size', 9).attr('fill', '#e8d51c')
  .text((d, k) => `${fibRatios[k].toFixed(1)} (${d.toFixed(2)})`);

// resistance tag
const rY = yP(resistanceLevel);
svg.append('rect').attr('x', 1480).attr('y', rY - 6.5).attr('width', 31).attr('height', 13).attr('fill', '#e53935');
svg.append('text').attr('x', 1495.5).attr('y', rY).attr('dy', '0.35em')
  .attr('text-anchor', 'middle').attr('font-size', 9.5).attr('fill', '#ffffff')
  .text(resistanceLevel.toFixed(2));

// last price tag (sits over the 11.05 axis label, as in the platform)
const lY = yP(lastPrice);
svg.append('path')
  .attr('d', `M1507.5,${lY} L1514,${lY - 6.8} L1558,${lY - 6.8} L1558,${lY + 6.8} L1514,${lY + 6.8} Z`)
  .attr('fill', '#4a5a66');
svg.append('text').attr('x', 1519).attr('y', lY).attr('dy', '0.35em')
  .attr('font-size', 10.2).attr('font-weight', 500).attr('fill', '#ffffff')
  .text(lastPrice.toFixed(2));

// countdown
const cd = svg.append('text').attr('x', 1509).attr('y', 464.5).attr('text-anchor', 'end').attr('font-size', 11);
cd.append('tspan').attr('fill', '#f39117').text('04');
cd.append('tspan').attr('fill', '#bdbdbd').text('óra ');
cd.append('tspan').attr('fill', '#f39117').text('00');
cd.append('tspan').attr('fill', '#bdbdbd').text('perc');

// ---------------- MACD ----------------
const macdG = svg.append('g').attr('clip-path', 'url(#clip-macd)');
macdG.append('g').selectAll('rect').data(macdHist).join('rect')
  .attr('x', (d, i) => x(i) - 1.07).attr('width', 2.2)
  .attr('y', d => Math.min(yM(d), yM(0)))
  .attr('height', d => Math.abs(yM(d) - yM(0)))
  .attr('fill', d => (d >= 0 ? '#00b475' : '#e53935'));
const macdPath = d3.line().x((d, k) => x(k * macdStep)).y(d => yM(d)).curve(d3.curveMonotoneX);
macdG.append('path').datum(macdLine).attr('d', macdPath).attr('fill', 'none').attr('stroke', '#13a468').attr('stroke-width', 1.1);
macdG.append('path').datum(signalLine).attr('d', macdPath).attr('fill', 'none').attr('stroke', '#e3322c').attr('stroke-width', 1.1);

// ---------------- RSI / CCI ----------------
svg.append('g').attr('clip-path', 'url(#clip-rsi)').append('path')
  .datum(rsiValues)
  .attr('d', d3.line().x((d, k) => x(rsiBars[k])).y(d => yR(d)))
  .attr('fill', 'none').attr('stroke', '#1d82e6').attr('stroke-width', 1.3);
svg.append('g').attr('clip-path', 'url(#clip-cci)').append('path')
  .datum(cciValues)
  .attr('d', d3.line().x((d, k) => x(cciBars[k])).y(d => yC(d)))
  .attr('fill', 'none').attr('stroke', '#1d82e6').attr('stroke-width', 1.3);

// panel separators + handles
[panels.macd.top, panels.rsi.top, panels.cci.top, panels.cci.bottom].forEach((yy, k) => {
  svg.append('line').attr('x1', 0).attr('x2', W).attr('y1', yy).attr('y2', yy)
    .attr('stroke', sepColor).attr('stroke-width', 1.3);
  if (k < 3) svg.append('rect').attr('x', 786).attr('y', yy - 1).attr('width', 8).attr('height', 2).attr('fill', '#c8c8c8');
});

// bottom date axis
const xAxis = svg.append('g').attr('transform', `translate(0,${panels.cci.bottom})`)
  .call(d3.axisBottom(x).tickValues(dateBars).tickFormat((d, k) => dateLabels[k]).tickSize(0).tickPadding(5));
xAxis.select('.domain').remove();
xAxis.selectAll('text')
  .attr('text-anchor', 'start').attr('x', 0.5)
  .attr('fill', '#dedede').attr('font-size', 10).attr('font-weight', 500)
  .attr('font-family', 'Roboto, sans-serif');

// legends with their small icons
function legendRow(yc, label) {
  const g = svg.append('g').attr('transform', `translate(0,${yc})`);
  [-3, -0.5, 2].forEach(o => g.append('rect').attr('x', 5).attr('y', o - 0.6).attr('width', 8.5).attr('height', 1.4).attr('fill', '#a0a0a0'));
  g.append('rect').attr('x', 10.5).attr('y', -4.2).attr('width', 3).attr('height', 3).attr('fill', '#a0a0a0');
  g.append('path').attr('d', 'M16.5,-3.5 L22.5,2.5 M22.5,-3.5 L16.5,2.5')
    .attr('stroke', '#a0a0a0').attr('stroke-width', 1.8);
  g.append('text').attr('x', 26).attr('y', 0).attr('dy', '0.35em').style('white-space', 'pre')
    .attr('font-size', 9).attr('fill', '#d8d8d8').attr('font-weight', 500).text(label);
}
smaLegend.forEach((t, k) => legendRow(421.8 + k * 11.6, t));
legendRow(583.5, macdLegend);
legendRow(673.7, rsiLegend);
legendRow(768.6, cciLegend);

// symbol header
const hdr = svg.append('g');
hdr.append('rect').attr('x', 8.4).attr('y', 7).attr('width', 155.6).attr('height', 19.6).attr('rx', 2).attr('fill', '#192025');
hdr.append('text').attr('x', 16.8).attr('y', 19.3).attr('font-size', 10.2).attr('font-weight', 700).attr('fill', '#e3e3e3').text(ticker);
hdr.append('text').attr('x', 65.5).attr('y', 18.3).attr('font-size', 6.6).attr('fill', '#8d8d8d').text(exchange);
hdr.append('path').attr('d', 'M85.4,12.6 L91.4,12.6 L88.4,15.6 Z').attr('fill', '#e3e3e3');
hdr.append('rect').attr('x', 122.4).attr('y', 8.6).attr('width', 35.9).attr('height', 13.2).attr('rx', 1.5)
  .attr('fill', '#12171b').attr('stroke', '#2f363d').attr('stroke-width', 0.8);
hdr.append('text').attr('x', 126.6).attr('y', 18.3).attr('font-size', 9.4).attr('font-weight', 700).attr('fill', '#e3e3e3').text(timeframe);
hdr.append('path').attr('d', 'M149.3,13.2 L154.9,13.2 L152.1,15.6 Z').attr('fill', '#e3e3e3');
</script>
</body>
</html>
